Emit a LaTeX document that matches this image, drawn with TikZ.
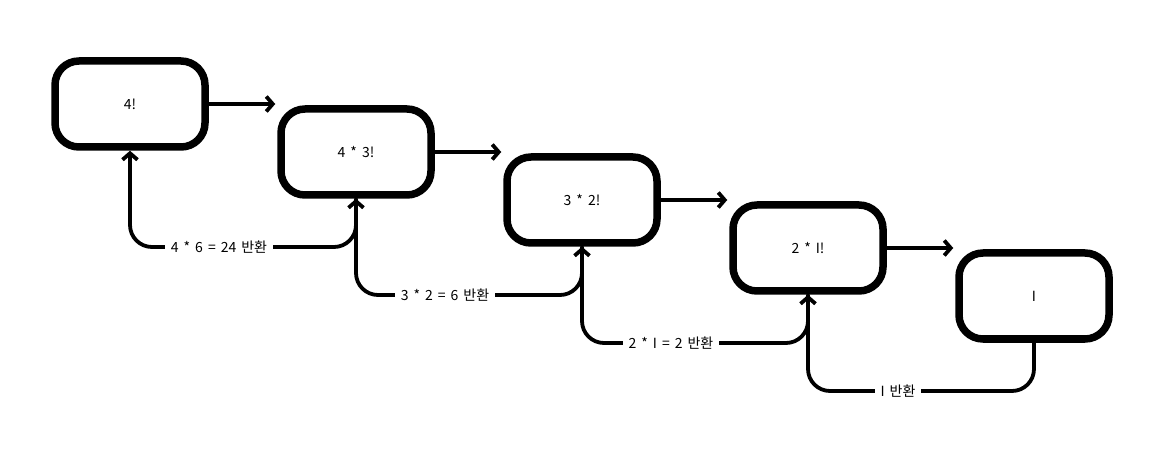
\documentclass[tikz,border=0pt]{standalone}
\usepackage{fontspec}
\setmainfont{Noto Sans CJK KR}
\usetikzlibrary{arrows.meta}
\newcommand{\myfnt}{\fontsize{14}{16}\selectfont\spaceskip=5pt plus 1pt\relax}
\begin{document}
\begin{tikzpicture}[x=1pt,y=-1pt,
  txt/.style={font=\myfnt},
  box/.style={draw, line width=7.5pt, rounded corners=24pt, minimum width=150pt, minimum height=86pt, inner sep=0pt, txt},
  fwd/.style={line width=3.8pt, line cap=round, -{Straight Barb[length=6.5pt,width=15pt,line width=3.8pt]}},
  ret/.style={line width=3.8pt, line cap=round, rounded corners=22pt, -{Straight Barb[length=6.5pt,width=15pt,line width=3.8pt]}},
  lbl/.style={fill=white, inner sep=6pt, txt}]
\useasboundingbox (0,0) rectangle (1162,454);
\node[box] (b1) at (130,104) {4!};
\node[box] (b2) at (356,152) {4 * 3!};
\node[box] (b3) at (582,200) {3 * 2!};
\node[box] (b4) at (808,248) {2 * I!};
\node[box] (b5) at (1034,296) {I};
\draw[fwd] (b1.east) -- ([xshift=-2pt]b1.east -| b2.west);
\draw[fwd] (b2.east) -- ([xshift=-2pt]b2.east -| b3.west);
\draw[fwd] (b3.east) -- ([xshift=-2pt]b3.east -| b4.west);
\draw[fwd] (b4.east) -- ([xshift=-2pt]b4.east -| b5.west);
\coordinate (c1) at (0,247);
\coordinate (c2) at (0,295);
\coordinate (c3) at (0,343);
\coordinate (c4) at (0,391);
\draw[ret] (b2.south) -- (b2.south |- c1) -| (b1.south);
\draw[ret] (b3.south) -- (b3.south |- c2) -| (b2.south);
\draw[ret] (b4.south) -- (b4.south |- c3) -| (b3.south);
\draw[ret] (b5.south) -- (b5.south |- c4) -| (b4.south);
\node[lbl] (l1) at (219,247) {4 * 6 = 24 반환};
\node[lbl] (l2) at (445,295) {3 * 2 = 6 반환};
\node[lbl] (l3) at (671,343) {2 * I = 2 반환};
\node[lbl] (l4) at (898,391) {I 반환};
\end{tikzpicture}
\end{document}
